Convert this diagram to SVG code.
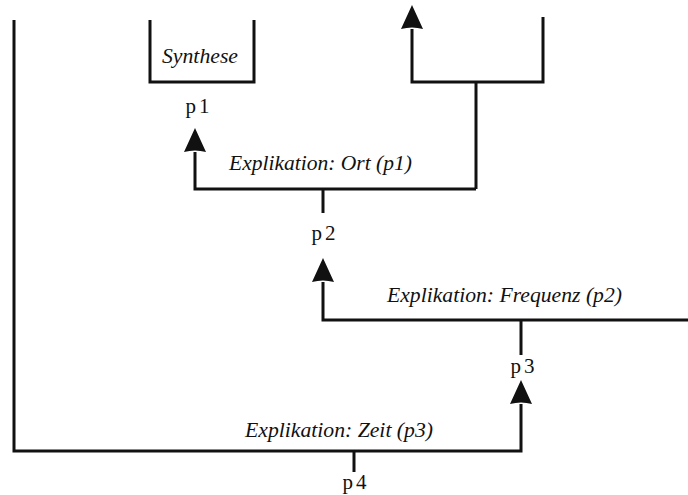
<svg xmlns="http://www.w3.org/2000/svg" width="688" height="495" viewBox="0 0 688 495">
  <style>
    .wire { fill: none; stroke: #111; stroke-width: 3; stroke-linejoin: miter; stroke-linecap: butt; }
    .lbl { font-family: "Liberation Serif", "DejaVu Serif", serif; font-size: 21px; fill: #111; text-anchor: middle; letter-spacing: 3px; }
    .note { font-family: "Liberation Serif", "DejaVu Serif", serif; font-style: italic; font-size: 20px; fill: #111; }
  </style>
  <defs>
    <marker id="head" viewBox="0 0 24 22" refX="0" refY="11" markerWidth="24" markerHeight="22" markerUnits="userSpaceOnUse" orient="auto">
      <path d="M0,0 Q3,11 0,22 L24,11 Z" fill="#111"/>
    </marker>
  </defs>
  <rect width="688" height="495" fill="#fff"/>

  <!-- synthesis container -->
  <g id="synthese">
    <path class="wire" d="M150,20 V82 H254 V20"/>
    <text class="note" x="162" y="63" textLength="76" lengthAdjust="spacingAndGlyphs">Synthese</text>
  </g>

  <!-- propositions -->
  <g id="p1"><text class="lbl" x="199" y="113">p1</text></g>
  <g id="p2"><text class="lbl" x="325" y="240">p2</text></g>
  <g id="p3"><text class="lbl" x="524" y="373">p3</text></g>
  <g id="p4"><text class="lbl" x="356" y="489">p4</text></g>

  <!-- connectors -->
  <g id="connectors">
    <!-- upper fork -->
    <path class="wire" d="M543,17 V82 H412 V29" marker-end="url(#head)"/>
    <path class="wire" d="M476,82 V189"/>
    <!-- Ort explication -->
    <path class="wire" d="M476,189 H195 V152" marker-end="url(#head)"/>
    <path class="wire" d="M323,189 V213"/>
    <!-- Frequenz explication -->
    <path class="wire" d="M688,320 H323 V282" marker-end="url(#head)"/>
    <path class="wire" d="M521,320 V355"/>
    <!-- Zeit explication -->
    <path class="wire" d="M14,20 V451 H521 V404" marker-end="url(#head)"/>
    <path class="wire" d="M354,451 V472"/>
  </g>

  <!-- edge labels -->
  <g id="labels">
    <text class="note" x="229" y="170" textLength="183" lengthAdjust="spacingAndGlyphs">Explikation: Ort (p1)</text>
    <text class="note" x="387" y="302" textLength="235" lengthAdjust="spacingAndGlyphs">Explikation: Frequenz (p2)</text>
    <text class="note" x="245" y="437" textLength="188" lengthAdjust="spacingAndGlyphs">Explikation: Zeit (p3)</text>
  </g>
</svg>
